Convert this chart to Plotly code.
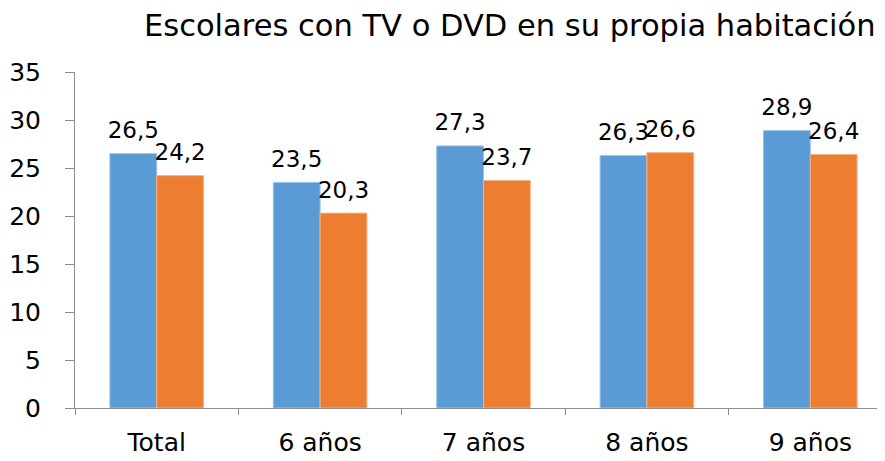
import plotly.graph_objects as go

categories = ["Total", "6 años", "7 años", "8 años", "9 años"]
serie_a = [26.5, 23.5, 27.3, 26.3, 28.9]
serie_b = [24.2, 20.3, 23.7, 26.6, 26.4]
y_ticks = [0, 5, 10, 15, 20, 25, 30, 35]

def fmt(v):
    return f"{v:.1f}".replace(".", ",")

font_family = "DejaVu Sans, Verdana, sans-serif"
GAP = 0.427

fig = go.Figure()
fig.add_trace(go.Bar(x=categories, y=serie_a, name="A", offsetgroup="a",
                     marker=dict(color="#5B9BD5", line=dict(color="#9DC3E6", width=1))))
fig.add_trace(go.Bar(x=categories, y=serie_b, name="B", offsetgroup="b",
                     marker=dict(color="#ED7D31", line=dict(color="#F4B183", width=1))))
# value labels, grouped like the bars
for vals, grp in ((serie_a, "a"), (serie_b, "b")):
    fig.add_trace(go.Scatter(x=categories, y=vals, offsetgroup=grp,
                             mode="markers+text", text=[fmt(v) for v in vals],
                             textposition="top center",
                             marker=dict(size=14, opacity=0),
                             textfont=dict(size=23, color="black", family=font_family),
                             cliponaxis=False, hoverinfo="skip"))

fig.update_layout(
    width=885, height=461,
    margin=dict(l=64, r=1, t=64, b=61),
    paper_bgcolor="white", plot_bgcolor="white",
    showlegend=False,
    barmode="group", bargap=GAP, bargroupgap=0,
    scattermode="group", scattergap=GAP,
    font=dict(family=font_family, color="black"),
    title=dict(text="Escolares con TV o DVD en su propia habitación",
               x=0.567, xanchor="center", y=0.963, yanchor="middle",
               font=dict(size=30.5, color="black", family=font_family)),
)
fig.update_yaxes(range=[0, 35], tickvals=y_ticks, showgrid=False,
                 showline=True, linecolor="#8c8c8c", linewidth=1,
                 ticks="outside", ticklen=9, tickcolor="#8c8c8c",
                 ticklabelstandoff=19,
                 tickfont=dict(size=25), zeroline=False)
fig.update_xaxes(showgrid=False, showline=True, linecolor="#8c8c8c", linewidth=1,
                 ticks="outside", ticklen=6, tickcolor="#8c8c8c", tickson="boundaries",
                 ticklabelstandoff=12,
                 tickfont=dict(size=25))

fig.write_html("out.html")
